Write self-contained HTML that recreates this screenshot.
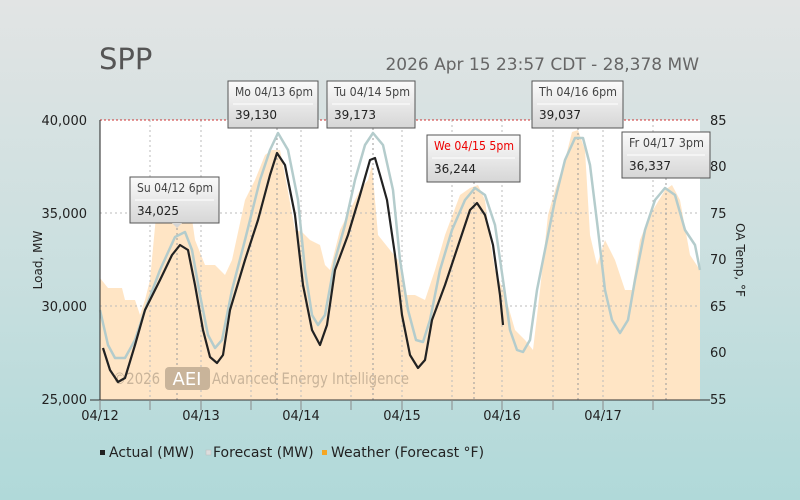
<!DOCTYPE html>
<html style="background:#b0d9d9"><head><meta charset="utf-8"><style>
html,body{margin:0;width:800px;height:500px;overflow:hidden}
body{background:linear-gradient(#e2e4e4 0%,#c9dfdf 55%,#b0d9d9 100%);font-family:"DejaVu Sans","Liberation Sans",sans-serif}
svg{display:block}
</style></head><body>
<svg width="800" height="500" viewBox="0 0 800 500" xmlns="http://www.w3.org/2000/svg" font-family="DejaVu Sans, Liberation Sans, sans-serif">
<defs><linearGradient id="tg" x1="0" y1="0" x2="0" y2="1"><stop offset="0" stop-color="#fbfbfb"/><stop offset="1" stop-color="#d6d6d6"/></linearGradient></defs>
<text x="99" y="69" font-size="29" fill="#555">SPP</text>
<text x="699" y="70" font-size="17" fill="#666" text-anchor="end">2026 Apr 15 23:57 CDT - 28,378 MW</text>
<rect x="100" y="120" width="600" height="280" fill="#fff"/>
<polygon fill="#ffe5c5" points="100,400 100,278 108,288 122,288 125,300 135,300 140,315 145,300 150,280 158,195 165,190 175,210 190,205 195,240 205,265 215,265 225,275 232,260 245,200 255,180 265,155 272,150 280,150 285,175 295,230 302,232 310,240 320,245 325,265 330,270 340,230 350,210 360,190 368,180 372,165 378,235 390,250 398,260 405,295 415,295 425,300 435,270 445,235 460,195 470,188 478,185 485,200 490,240 495,270 505,295 515,330 525,340 533,350 540,290 548,215 555,190 565,160 572,132 578,130 585,150 590,235 597,265 605,240 615,260 625,290 632,290 640,240 650,215 665,190 672,185 680,200 690,255 700,270 700,400"/>
<g stroke="#bbb" stroke-dasharray="2,3" stroke-width="1">
<line x1="100" y1="213" x2="700" y2="213"/><line x1="100" y1="306" x2="700" y2="306"/>
<line x1="150" y1="120" x2="150" y2="400"/><line x1="251" y1="120" x2="251" y2="400"/><line x1="351" y1="120" x2="351" y2="400"/><line x1="452" y1="120" x2="452" y2="400"/><line x1="553" y1="120" x2="553" y2="400"/><line x1="653" y1="120" x2="653" y2="400"/>
<line x1="201" y1="120" x2="201" y2="400"/><line x1="301" y1="120" x2="301" y2="400"/><line x1="402" y1="120" x2="402" y2="400"/><line x1="502" y1="120" x2="502" y2="400"/><line x1="603" y1="120" x2="603" y2="400"/>
</g>
<g stroke="#999" stroke-dasharray="2,3"><line x1="177" y1="223" x2="177" y2="400"/><line x1="277" y1="128" x2="277" y2="400"/><line x1="373" y1="128" x2="373" y2="400"/><line x1="474" y1="182" x2="474" y2="400"/><line x1="578" y1="128" x2="578" y2="400"/><line x1="666" y1="178" x2="666" y2="400"/></g>
<line x1="100" y1="120" x2="700" y2="120" stroke="#c33" stroke-dasharray="2,2"/>
<text x="113" y="384" font-size="16" fill="#c9b49a" textLength="47" lengthAdjust="spacingAndGlyphs">©2026</text>
<rect x="165" y="367" width="45" height="23" rx="4" fill="#c9b49a"/>
<text x="187" y="385" font-size="18" fill="#fff" text-anchor="middle">AEI</text>
<text x="212" y="384" font-size="16" fill="#c9b49a" textLength="197" lengthAdjust="spacingAndGlyphs">Advanced Energy Intelligence</text>
<polyline fill="none" stroke="#b4cccc" stroke-width="2.5" stroke-linejoin="round" points="100,310 108,345 115,358 125,358 135,340 145,310 160,270 175,237 185,232 192,250 200,295 208,335 215,348 222,340 232,290 245,240 260,180 270,150 278,133 288,150 298,200 305,270 312,315 318,325 325,315 335,260 345,225 355,180 365,145 373,133 383,145 393,190 400,260 408,310 416,340 423,342 430,320 440,270 452,230 465,200 475,188 485,195 495,225 503,280 510,330 517,350 523,352 530,340 537,290 545,250 555,200 565,160 575,138 583,138 590,165 598,230 605,290 612,320 620,333 628,320 635,280 645,230 655,200 665,188 675,195 685,230 695,245 700,270"/>
<polyline fill="none" stroke="#222" stroke-width="2.2" stroke-linejoin="round" points="103,348 110,370 118,382 125,378 135,345 145,310 160,280 172,255 180,245 188,250 195,285 203,330 210,357 217,363 223,355 230,310 245,260 258,220 270,175 277,153 285,165 295,215 303,285 312,330 320,345 327,325 335,270 348,235 360,195 370,160 375,158 380,175 387,200 395,255 402,315 410,355 418,368 425,360 432,320 445,285 460,240 470,210 477,203 485,215 493,245 500,295 503,325"/>
<line x1="100" y1="120" x2="100" y2="400" stroke="#222"/>
<line x1="90" y1="400" x2="710" y2="400" stroke="#333"/>
<g stroke="#888"><line x1="100" y1="400" x2="100" y2="410"/><line x1="150" y1="400" x2="150" y2="410"/><line x1="201" y1="400" x2="201" y2="410"/><line x1="251" y1="400" x2="251" y2="410"/><line x1="301" y1="400" x2="301" y2="410"/><line x1="351" y1="400" x2="351" y2="410"/><line x1="402" y1="400" x2="402" y2="410"/><line x1="452" y1="400" x2="452" y2="410"/><line x1="502" y1="400" x2="502" y2="410"/><line x1="553" y1="400" x2="553" y2="410"/><line x1="603" y1="400" x2="603" y2="410"/><line x1="653" y1="400" x2="653" y2="410"/></g>
<g font-size="13" fill="#222">
<text x="87" y="125" text-anchor="end">40,000</text><text x="87" y="218" text-anchor="end">35,000</text><text x="87" y="311" text-anchor="end">30,000</text><text x="87" y="404" text-anchor="end">25,000</text>
<text x="710" y="125">85</text><text x="710" y="171">80</text><text x="710" y="218">75</text><text x="710" y="264">70</text><text x="710" y="311">65</text><text x="710" y="357">60</text><text x="710" y="404">55</text>
<text x="100" y="420" text-anchor="middle">04/12</text><text x="201" y="420" text-anchor="middle">04/13</text><text x="301" y="420" text-anchor="middle">04/14</text><text x="402" y="420" text-anchor="middle">04/15</text><text x="502" y="420" text-anchor="middle">04/16</text><text x="603" y="420" text-anchor="middle">04/17</text>
<text transform="translate(42,260) rotate(-90)" text-anchor="middle" font-size="12">Load, MW</text>
<text transform="translate(736,260) rotate(90)" text-anchor="middle" font-size="12">OA Temp, °F</text>
</g>
<g font-size="12">
<g transform="translate(130,177)"><rect width="89" height="46" fill="url(#tg)" stroke="#555"/><line x1="5" y1="23" x2="84" y2="23" stroke="#fff"/><polygon points="42,46 52,46 47,51" fill="#d6d6d6"/><text x="7" y="15" fill="#444" textLength="76" lengthAdjust="spacingAndGlyphs">Su 04/12 6pm</text><text x="7" y="38" fill="#222">34,025</text></g>
<g transform="translate(228,81)"><rect width="90" height="47" fill="url(#tg)" stroke="#555"/><line x1="5" y1="23" x2="85" y2="23" stroke="#fff"/><text x="7" y="15" fill="#444" textLength="78" lengthAdjust="spacingAndGlyphs">Mo 04/13 6pm</text><text x="7" y="38" fill="#222">39,130</text></g>
<g transform="translate(327,81)"><rect width="88" height="47" fill="url(#tg)" stroke="#555"/><line x1="5" y1="23" x2="83" y2="23" stroke="#fff"/><text x="7" y="15" fill="#444" textLength="76" lengthAdjust="spacingAndGlyphs">Tu 04/14 5pm</text><text x="7" y="38" fill="#222">39,173</text></g>
<g transform="translate(427,135)"><rect width="93" height="47" fill="url(#tg)" stroke="#555"/><line x1="5" y1="23" x2="88" y2="23" stroke="#fff"/><text x="7" y="15" fill="#e00" textLength="80" lengthAdjust="spacingAndGlyphs">We 04/15 5pm</text><text x="7" y="38" fill="#222">36,244</text></g>
<g transform="translate(532,81)"><rect width="91" height="47" fill="url(#tg)" stroke="#555"/><line x1="5" y1="23" x2="86" y2="23" stroke="#fff"/><text x="7" y="15" fill="#444" textLength="78" lengthAdjust="spacingAndGlyphs">Th 04/16 6pm</text><text x="7" y="38" fill="#222">39,037</text></g>
<g transform="translate(622,132)"><rect width="88" height="46" fill="url(#tg)" stroke="#555"/><line x1="5" y1="23" x2="83" y2="23" stroke="#fff"/><text x="7" y="15" fill="#444" textLength="75" lengthAdjust="spacingAndGlyphs">Fr 04/17 3pm</text><text x="7" y="38" fill="#222">36,337</text></g>
</g>
<g font-size="14" fill="#222">
<rect x="100" y="450" width="5" height="5" fill="#222"/><text x="109" y="457">Actual (MW)</text>
<rect x="206" y="450" width="5" height="5" fill="#ddd" stroke="#bbb" stroke-width="0.5"/><text x="213" y="457">Forecast (MW)</text>
<rect x="322" y="450" width="5" height="5" fill="#f5a623"/><text x="331" y="457">Weather (Forecast °F)</text>
</g>
</svg>
</body></html>
